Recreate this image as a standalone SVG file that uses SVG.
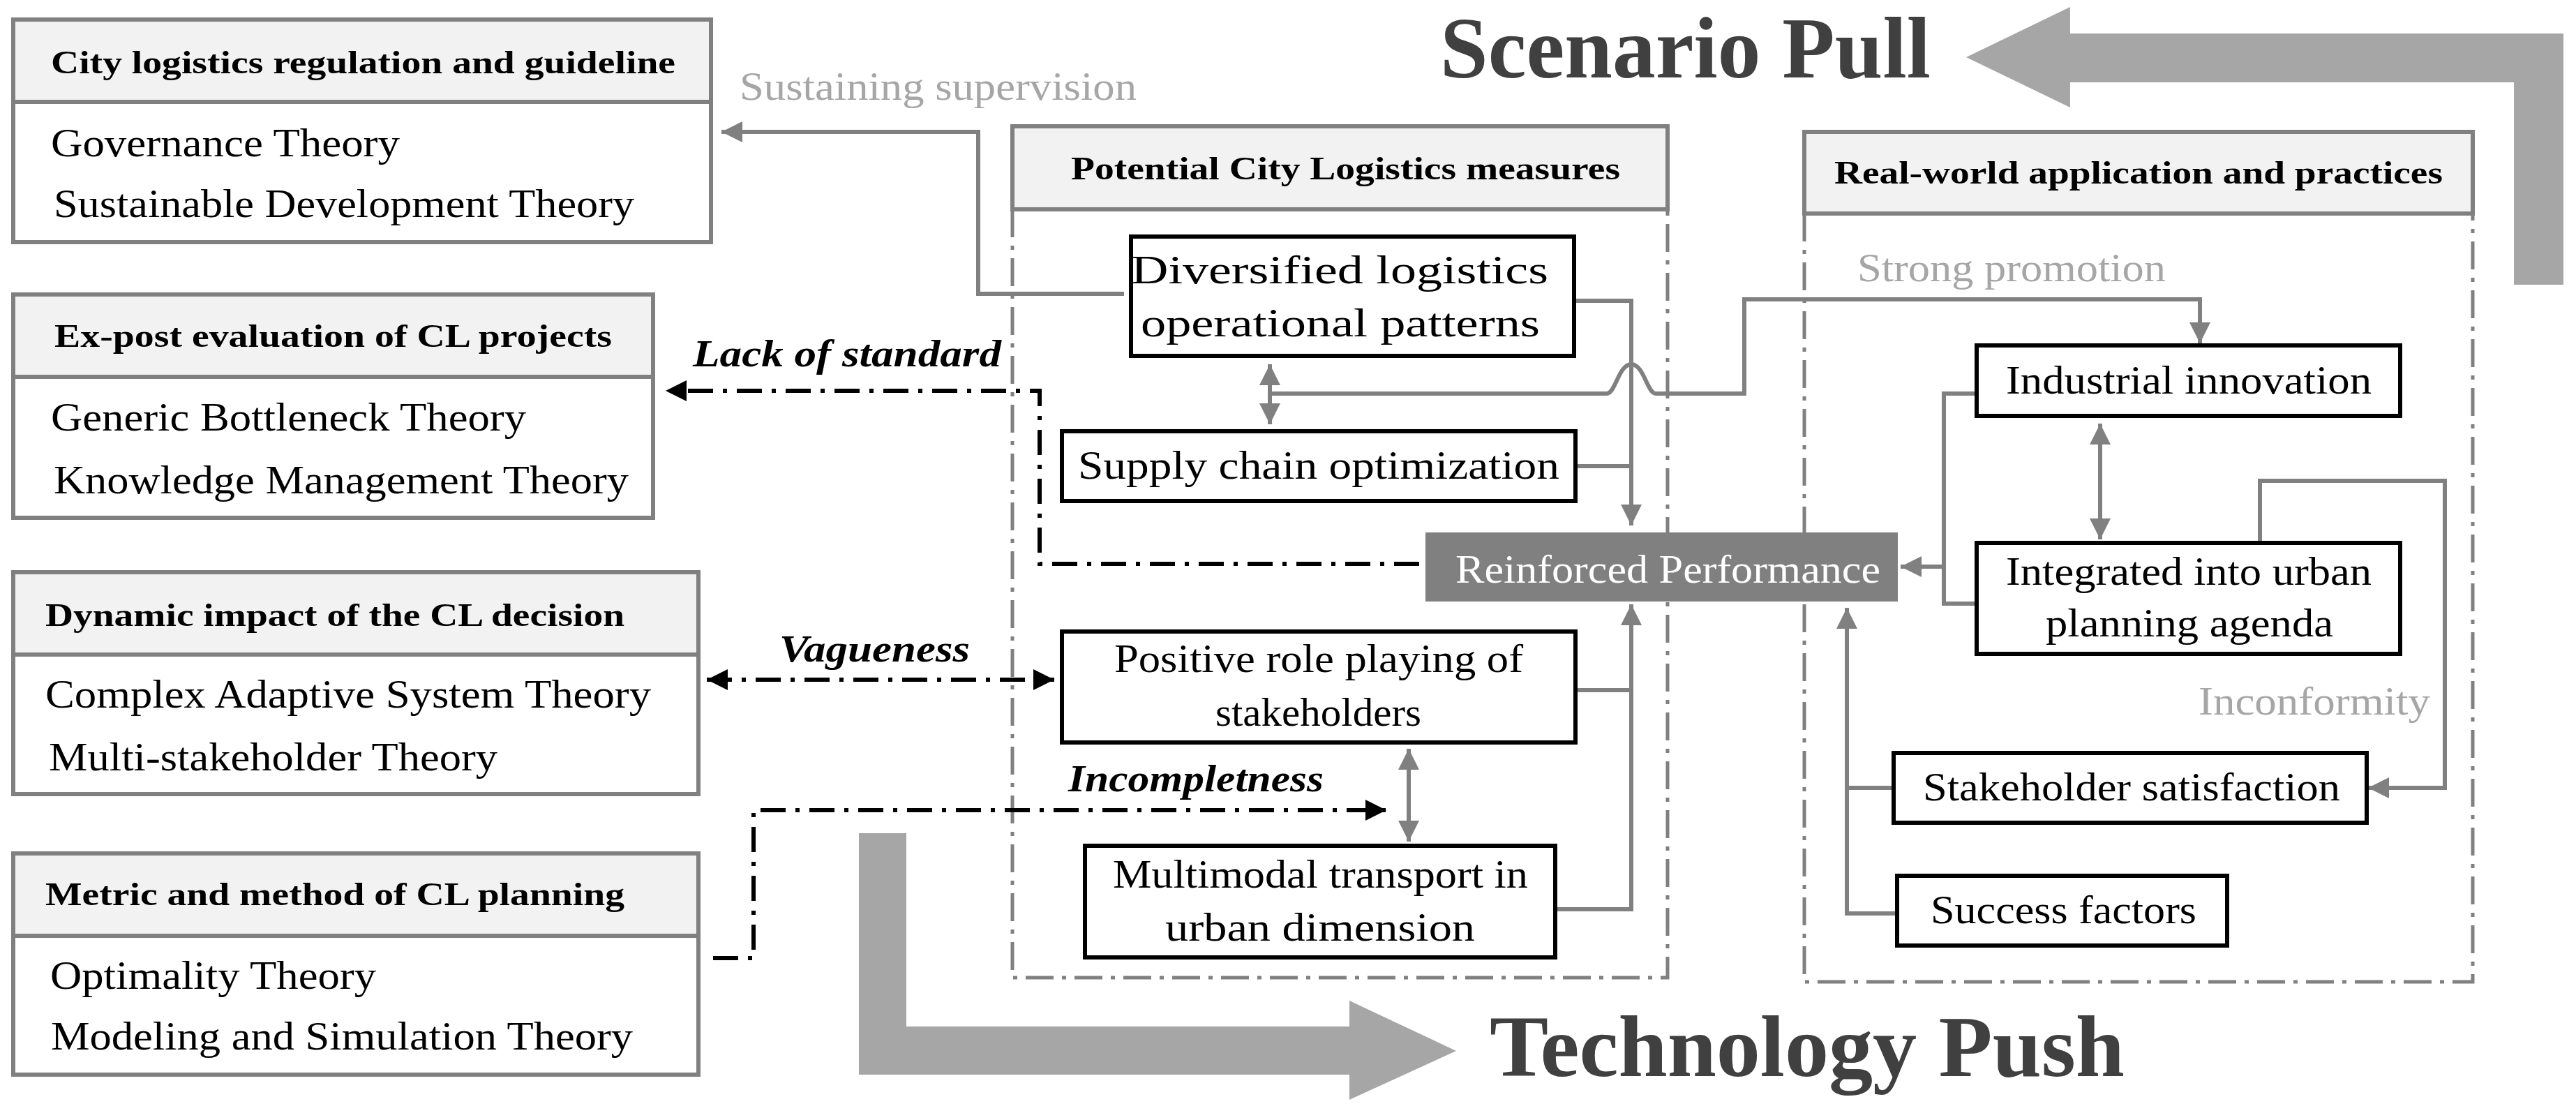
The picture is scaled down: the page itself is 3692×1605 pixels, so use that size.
<svg xmlns="http://www.w3.org/2000/svg" width="3692" height="1605" viewBox="0 0 3692 1605">
<style>
text{font-family:"Liberation Serif","Times New Roman",serif;}
.b{font-size:56px;fill:#000}
.h{font-size:46px;font-weight:bold;fill:#000}
.g{font-size:56px;fill:#a6a6a6}
.i{font-size:54px;font-weight:bold;font-style:italic;fill:#000}
.t{font-size:124px;font-weight:bold;fill:#404040}
.lb{fill:#fff;stroke:#808080;stroke-width:6}
.hd{fill:#f2f2f2;stroke:#808080;stroke-width:6}
.nd{fill:#fff;stroke:#000;stroke-width:6}
.grp{fill:none;stroke:#808080;stroke-width:5;stroke-dasharray:40 12 6 12}
.c{fill:none;stroke:#808080;stroke-width:6}
.k{fill:none;stroke:#000;stroke-width:6;stroke-dasharray:36 14 6 14}
</style>
<defs>
<marker id="ga" viewBox="0 0 10 10" refX="10" refY="5" markerWidth="5" markerHeight="5" orient="auto-start-reverse" markerUnits="strokeWidth"><path d="M0,0L10,5L0,10z" fill="#808080"/></marker>
<marker id="ka" viewBox="0 0 10 10" refX="10" refY="5" markerWidth="5" markerHeight="5" orient="auto-start-reverse" markerUnits="strokeWidth"><path d="M0,0L10,5L0,10z" fill="#000"/></marker>
</defs>

<g id="bigArrows">
<path d="M3674,48 L2967,48 L2967,10 L2818,82 L2967,154 L2967,118 L3603,118 L3603,408 L3674,408 Z" fill="#a6a6a6"/>
<path d="M1231,1194 L1299,1194 L1299,1471 L1934,1471 L1934,1434 L2087,1506 L1934,1576 L1934,1540 L1231,1540 Z" fill="#a6a6a6"/>
<text class="t" x="2064" y="111" textLength="703" lengthAdjust="spacingAndGlyphs">Scenario Pull</text>
<text class="t" x="2135" y="1542" textLength="910" lengthAdjust="spacingAndGlyphs">Technology Push</text>
</g>

<g id="box-regulation">
<rect class="lb" x="19" y="28" width="1000" height="319"/>
<rect class="hd" x="19" y="28" width="1000" height="118"/>
<text class="h" x="73" y="105" textLength="895" lengthAdjust="spacingAndGlyphs">City logistics regulation and guideline</text>
<text class="b" x="73" y="224" textLength="500" lengthAdjust="spacingAndGlyphs">Governance Theory</text>
<text class="b" x="77" y="311" textLength="832" lengthAdjust="spacingAndGlyphs">Sustainable Development Theory</text>
</g>
<g id="box-expost">
<rect class="lb" x="19" y="422" width="917" height="320"/>
<rect class="hd" x="19" y="422" width="917" height="118"/>
<text class="h" x="78" y="497" textLength="799" lengthAdjust="spacingAndGlyphs">Ex-post evaluation of CL projects</text>
<text class="b" x="73" y="617" textLength="681" lengthAdjust="spacingAndGlyphs">Generic Bottleneck Theory</text>
<text class="b" x="77" y="707" textLength="824" lengthAdjust="spacingAndGlyphs">Knowledge Management Theory</text>
</g>
<g id="box-dynamic">
<rect class="lb" x="19" y="820" width="982" height="318"/>
<rect class="hd" x="19" y="820" width="982" height="118"/>
<text class="h" x="65" y="897" textLength="830" lengthAdjust="spacingAndGlyphs">Dynamic impact of the CL decision</text>
<text class="b" x="65" y="1014" textLength="868" lengthAdjust="spacingAndGlyphs">Complex Adaptive System Theory</text>
<text class="b" x="70" y="1104" textLength="643" lengthAdjust="spacingAndGlyphs">Multi-stakeholder Theory</text>
</g>
<g id="box-metric">
<rect class="lb" x="19" y="1223" width="982" height="317"/>
<rect class="hd" x="19" y="1223" width="982" height="118"/>
<text class="h" x="65" y="1297" textLength="830" lengthAdjust="spacingAndGlyphs">Metric and method of CL planning</text>
<text class="b" x="72" y="1417" textLength="467" lengthAdjust="spacingAndGlyphs">Optimality Theory</text>
<text class="b" x="73" y="1504" textLength="834" lengthAdjust="spacingAndGlyphs">Modeling and Simulation Theory</text>
</g>

<g id="group-potential">
<path class="grp" d="M1451,300 L1451,1401 L2390,1401 L2390,300"/>
<rect class="hd" x="1451" y="181" width="939" height="119"/>
<text class="h" x="1535" y="257" textLength="787" lengthAdjust="spacingAndGlyphs">Potential City Logistics measures</text>
</g>
<g id="group-real">
<path class="grp" d="M2586,306 L2586,1407 L3544,1407 L3544,306"/>
<rect class="hd" x="2586" y="189" width="958" height="117"/>
<text class="h" x="2629" y="263" textLength="872" lengthAdjust="spacingAndGlyphs">Real-world application and practices</text>
</g>

<g id="connectors">
<path class="c" d="M1611,421 L1402,421 L1402,189 L1034,189" marker-end="url(#ga)"/>
<path class="c" d="M1820,522 L1820,608" marker-start="url(#ga)" marker-end="url(#ga)"/>
<path class="c" d="M1820,564 L2303,564 C2315,564 2320,522 2338,522 C2356,522 2361,564 2373,564 L2500,564 L2500,429 L3153,429 L3153,492" marker-end="url(#ga)"/>
<path class="c" d="M2256,431 L2338,431 L2338,753" marker-end="url(#ga)"/>
<path class="c" d="M2258,668 L2338,668"/>
<path class="c" d="M2258,989 L2338,989"/>
<path class="c" d="M2229,1303 L2338,1303 L2338,866" marker-end="url(#ga)"/>
<path class="c" d="M2019,1073 L2019,1206" marker-start="url(#ga)" marker-end="url(#ga)"/>
<path class="c" d="M3010,607 L3010,773" marker-start="url(#ga)" marker-end="url(#ga)"/>
<path class="c" d="M2833,564 L2786,564 L2786,865 L2833,865"/>
<path class="c" d="M2786,812 L2724,812" marker-end="url(#ga)"/>
<path class="c" d="M3239,778 L3239,689 L3504,689 L3504,1129 L3394,1129" marker-end="url(#ga)"/>
<path class="c" d="M2719,1309 L2647,1309 L2647,871" marker-end="url(#ga)"/>
<path class="c" d="M2714,1129 L2647,1129"/>
<path class="k" d="M2034,808 L1490,808 L1490,560 L954,560" marker-end="url(#ka)"/>
<path class="k" d="M1013,974 L1511,974" marker-start="url(#ka)" marker-end="url(#ka)"/>
<path class="k" d="M1022,1373 L1080,1373 L1080,1161 L1987,1161" marker-end="url(#ka)"/>
<text class="g" x="1060" y="143" textLength="569" lengthAdjust="spacingAndGlyphs">Sustaining supervision</text>
<text class="i" x="993" y="525" textLength="442" lengthAdjust="spacingAndGlyphs">Lack of standard</text>
<text class="i" x="1117" y="948" textLength="273" lengthAdjust="spacingAndGlyphs">Vagueness</text>
<text class="i" x="1531" y="1134" textLength="366" lengthAdjust="spacingAndGlyphs">Incompletness</text>
<text class="g" x="2662" y="403" textLength="442" lengthAdjust="spacingAndGlyphs">Strong promotion</text>
<text class="g" x="3151" y="1024" textLength="332" lengthAdjust="spacingAndGlyphs">Inconformity</text>
</g>

<g id="node-diversified">
<rect class="nd" x="1621" y="339" width="635" height="171"/>
<text class="b" x="1599" y="406" textLength="598" lengthAdjust="spacingAndGlyphs" transform="translate(22,0)">Diversified logistics</text>
<text class="b" x="1635" y="482" textLength="572" lengthAdjust="spacingAndGlyphs">operational patterns</text>
</g>
<g id="node-supply">
<rect class="nd" x="1522" y="618" width="736" height="100"/>
<text class="b" x="1545" y="686" textLength="690" lengthAdjust="spacingAndGlyphs">Supply chain optimization</text>
</g>
<g id="node-reinforced">
<rect x="2043" y="763" width="677" height="99" fill="#808080"/>
<text x="2086" y="835" font-size="56" fill="#fff" textLength="609" lengthAdjust="spacingAndGlyphs">Reinforced Performance</text>
</g>
<g id="node-positive">
<rect class="nd" x="1522" y="905" width="736" height="159"/>
<text class="b" x="1597" y="963" textLength="586" lengthAdjust="spacingAndGlyphs">Positive role playing of</text>
<text class="b" x="1742" y="1040" textLength="295" lengthAdjust="spacingAndGlyphs">stakeholders</text>
</g>
<g id="node-multimodal">
<rect class="nd" x="1555" y="1212" width="674" height="160"/>
<text class="b" x="1595" y="1272" textLength="595" lengthAdjust="spacingAndGlyphs">Multimodal transport in</text>
<text class="b" x="1670" y="1348" textLength="444" lengthAdjust="spacingAndGlyphs">urban dimension</text>
</g>
<g id="node-industrial">
<rect class="nd" x="2833" y="495" width="607" height="101"/>
<text class="b" x="2875" y="564" textLength="524" lengthAdjust="spacingAndGlyphs">Industrial innovation</text>
</g>
<g id="node-integrated">
<rect class="nd" x="2833" y="778" width="607" height="159"/>
<text class="b" x="2875" y="838" textLength="524" lengthAdjust="spacingAndGlyphs">Integrated into urban</text>
<text class="b" x="2932" y="912" textLength="412" lengthAdjust="spacingAndGlyphs">planning agenda</text>
</g>
<g id="node-satisfaction">
<rect class="nd" x="2714" y="1079" width="678" height="100"/>
<text class="b" x="2756" y="1147" textLength="598" lengthAdjust="spacingAndGlyphs">Stakeholder satisfaction</text>
</g>
<g id="node-success">
<rect class="nd" x="2719" y="1255" width="473" height="100"/>
<text class="b" x="2767" y="1323" textLength="381" lengthAdjust="spacingAndGlyphs">Success factors</text>
</g>
</svg>
